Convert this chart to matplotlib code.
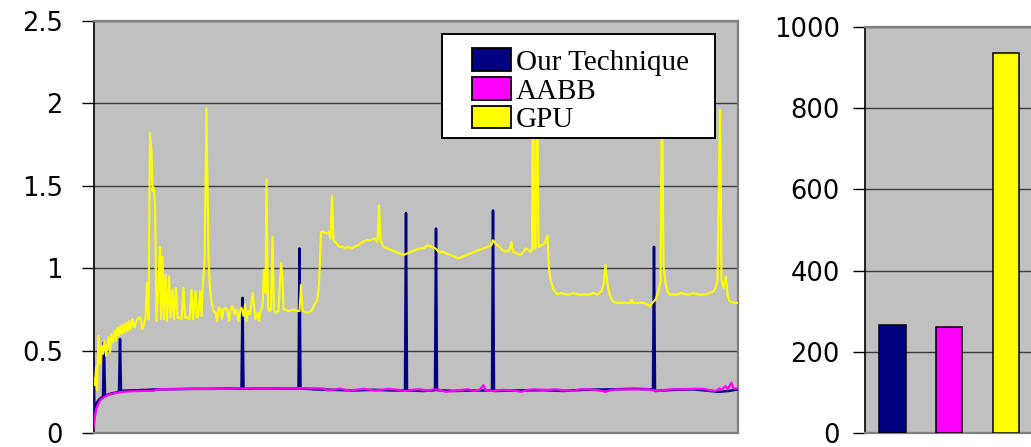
import matplotlib
matplotlib.use("Agg")
import matplotlib.pyplot as plt
from matplotlib.patches import Patch, Rectangle

# ---- per-frame collision query time (left panel) ----
series_names = ["Our Technique", "AABB", "GPU"]
series_colors = ["#000080", "#FF00FF", "#FFFF00"]

gpu_frames = [0, 1.5, 2.5, 3.5, 5, 6.5, 8, 9.5, 11, 12.5, 15, 16.5, 18, 19.5, 21, 22.5,
              24, 25.5, 27, 28.5, 30, 31.5, 33, 34.5, 36, 37.5, 39, 41, 43, 45, 47, 48.5,
              50, 52, 53.5, 55, 56.5, 58, 59, 60, 61.5, 63, 65, 66.5, 67.5, 69, 70.5, 72,
              73.5, 75.5, 77, 79, 80.5, 82.5, 84, 86, 88, 90, 91.5, 94, 96, 98, 99.5, 102,
              103.5, 105, 106.5, 108, 109.5, 111, 113, 115, 116.5, 118, 120, 122, 123.5,
              125, 127, 128.5, 130, 132, 134, 135.5, 137, 139, 141, 143, 145, 146.5, 148,
              150, 151.5, 153, 154.5, 156.5, 159, 160.5, 162, 164, 165.5, 167, 169, 170.5,
              172, 173, 174.5, 176, 177.5, 179, 180.5, 182, 185, 187.5, 189, 190, 195, 200,
              204, 206, 207.5, 209, 214, 218, 221, 223.5, 225.5, 227.5, 230, 233, 235.5,
              237, 238.5, 240, 243, 246, 249, 252, 255, 258, 261, 265, 269, 273, 277, 281,
              284, 285.5, 287, 290, 294, 298, 302, 306, 310, 314, 318, 322, 326, 330, 334,
              338, 342, 345, 349, 353, 357, 361, 365, 369, 373, 377, 381, 385, 390, 394,
              398, 399.5, 402, 406, 409, 413, 416, 418, 419.5, 423, 427, 430, 432, 435,
              437, 438.5, 439.5, 440.5, 442, 443.5, 445, 448, 451, 454, 455.5, 457, 460,
              464, 468, 472, 476, 480, 484, 488, 492, 496, 500, 504, 508, 510, 512, 514,
              516, 519, 522, 526, 530, 534, 537, 538, 539, 542, 546, 550, 554, 556, 559,
              562, 565, 567, 568.5, 570, 572, 574, 576, 580, 584, 588, 592, 596, 600, 604,
              608, 612, 616, 620, 622, 624, 626.5, 628, 630, 632.5, 634, 636, 640, 645]
gpu_time = [0.33, 0.29, 0.40, 0.26, 0.59, 0.42, 0.53, 0.48, 0.56, 0.47, 0.58, 0.49, 0.60,
            0.55, 0.62, 0.56, 0.64, 0.59, 0.65, 0.60, 0.66, 0.61, 0.67, 0.62, 0.68, 0.63,
            0.69, 0.64, 0.68, 0.70, 0.70, 0.63, 0.65, 0.70, 0.91, 0.69, 1.82, 1.71, 1.47,
            1.49, 1.39, 0.68, 0.90, 1.13, 0.69, 1.07, 0.69, 0.96, 0.68, 0.95, 0.70, 0.87,
            0.69, 0.88, 0.70, 0.70, 0.69, 0.88, 0.70, 0.70, 0.69, 0.87, 0.69, 0.86, 0.70,
            0.72, 0.86, 0.71, 0.92, 1.04, 1.97, 1.05, 0.88, 0.80, 0.74, 0.73, 0.68, 0.76,
            0.75, 0.69, 0.75, 0.76, 0.74, 0.68, 0.75, 0.77, 0.72, 0.75, 0.68, 0.74, 0.76,
            0.71, 0.78, 0.68, 0.74, 0.72, 0.85, 0.78, 0.69, 0.73, 0.68, 0.74, 0.77, 0.99,
            0.85, 1.54, 0.76, 0.74, 0.75, 1.19, 0.75, 0.73, 0.74, 1.03, 0.94, 0.75, 0.74,
            0.75, 0.74, 0.74, 0.90, 0.74, 0.73, 0.74, 0.78, 0.80, 0.90, 1.22, 1.22, 1.21,
            1.22, 1.18, 1.44, 1.17, 1.15, 1.13, 1.13, 1.12, 1.13, 1.12, 1.13, 1.14, 1.16,
            1.17, 1.17, 1.18, 1.16, 1.38, 1.17, 1.13, 1.12, 1.11, 1.10, 1.09, 1.08, 1.09,
            1.10, 1.11, 1.12, 1.12, 1.14, 1.13, 1.12, 1.10, 1.10, 1.09, 1.08, 1.07, 1.06,
            1.07, 1.08, 1.09, 1.10, 1.11, 1.12, 1.13, 1.14, 1.17, 1.15, 1.13, 1.11, 1.10,
            1.11, 1.16, 1.10, 1.09, 1.08, 1.10, 1.12, 1.11, 1.10, 1.11, 2.40, 1.12, 1.12,
            2.40, 1.13, 1.14, 1.15, 1.20, 1.00, 0.93, 0.87, 0.84, 0.85, 0.84, 0.84, 0.85,
            0.84, 0.84, 0.84, 0.84, 0.85, 0.84, 0.86, 0.90, 1.02, 0.90, 0.84, 0.80, 0.79,
            0.79, 0.79, 0.79, 0.79, 0.81, 0.79, 0.79, 0.79, 0.79, 0.78, 0.77, 0.79, 0.81,
            0.86, 0.92, 2.20, 1.02, 0.91, 0.86, 0.84, 0.84, 0.84, 0.85, 0.84, 0.84, 0.85,
            0.84, 0.84, 0.84, 0.85, 0.86, 0.88, 0.93, 1.96, 0.93, 0.88, 0.95, 0.84, 0.80,
            0.79, 0.79]

ours_frames = [0, 1, 2, 4, 6, 8, 9.5, 10.5, 11.5, 14, 18, 22, 25.5, 26.5, 27.5, 35, 45, 55,
               65, 80, 100, 120, 135, 148, 149, 150, 165, 180, 195, 205, 206, 207, 220, 240,
               260, 280, 300, 311.5, 312.5, 313.5, 330, 341.5, 342.5, 343.5, 360, 380,
               398.5, 399.5, 400.5, 420, 450, 470, 490, 520, 540, 559.5, 560.5, 561.5, 580,
               600, 625, 635, 645]
ours_time = [0.45, 0.12, 0.16, 0.19, 0.205, 0.215, 0.22, 0.55, 0.225, 0.232, 0.24, 0.245,
             0.25, 0.57, 0.255, 0.258, 0.26, 0.262, 0.265, 0.266, 0.268, 0.268, 0.27,
             0.268, 0.82, 0.268, 0.27, 0.27, 0.27, 0.27, 1.12, 0.27, 0.265, 0.262, 0.258,
             0.262, 0.258, 0.258, 1.335, 0.258, 0.255, 0.26, 1.24, 0.26, 0.255, 0.258,
             0.258, 1.35, 0.255, 0.258, 0.26, 0.255, 0.262, 0.265, 0.268, 0.265, 1.13,
             0.255, 0.262, 0.265, 0.25, 0.255, 0.265]

aabb_frames = [0, 1, 2, 3, 5, 7, 10, 14, 20, 27, 35, 45, 60, 64, 90, 120, 150, 180, 210,
               230, 234, 240, 246, 255, 262, 270, 280, 286, 295, 305, 312, 318, 326, 334,
               340, 346, 352, 360, 368, 375, 380, 386, 390, 392, 398, 404, 410, 420, 428,
               434, 440, 448, 455, 462, 470, 480, 486, 495, 505, 512, 518, 525, 535, 545,
               555, 560, 566, 572, 580, 590, 600, 610, 616, 622, 626, 628, 632, 634, 638,
               640, 645]
aabb_time = [0.03, 0.08, 0.12, 0.15, 0.18, 0.20, 0.215, 0.23, 0.24, 0.248, 0.252, 0.255,
             0.256, 0.265, 0.267, 0.268, 0.27, 0.27, 0.272, 0.27, 0.258, 0.262, 0.27,
             0.258, 0.262, 0.268, 0.258, 0.26, 0.268, 0.262, 0.255, 0.262, 0.265, 0.258,
             0.265, 0.262, 0.25, 0.255, 0.262, 0.265, 0.255, 0.262, 0.29, 0.262, 0.255,
             0.258, 0.262, 0.258, 0.25, 0.262, 0.265, 0.262, 0.262, 0.265, 0.26, 0.255,
             0.265, 0.265, 0.258, 0.25, 0.262, 0.265, 0.265, 0.265, 0.265, 0.26, 0.255,
             0.262, 0.265, 0.265, 0.268, 0.268, 0.26, 0.255, 0.27, 0.262, 0.285, 0.265,
             0.305, 0.27, 0.27]

left_ticks = [0, 0.5, 1, 1.5, 2, 2.5]
left_ticklabels = ["0", "0.5", "1", "1.5", "2", "2.5"]

# ---- total time per method (right panel) ----
total_time = [266, 260, 937]
right_ticks = [0, 200, 400, 600, 800, 1000]

W, H = 1031, 447
fig = plt.figure(figsize=(W / 100, H / 100), dpi=100)
fig.patch.set_facecolor("white")

plot_bg = "#C0C0C0"
grid_col = "#3a3a3a"
frame_col = "#808080"
tick_font = {"family": "DejaVu Sans", "size": 18.5}


def style_axes(ax, pad):
    ax.set_facecolor(plot_bg)
    ax.grid(axis="y", color=grid_col, linewidth=1.0, zorder=0)
    ax.set_axisbelow(True)
    ax.spines["left"].set_color("black")
    ax.spines["left"].set_linewidth(1.2)
    for s in ("top", "right", "bottom"):
        ax.spines[s].set_color(frame_col)
        ax.spines[s].set_linewidth(1.6)
    ax.tick_params(axis="y", direction="out", length=8.6, width=1.0, color="black",
                   pad=pad, labelsize=tick_font["size"])
    ax.tick_params(axis="x", length=0, labelbottom=False)
    for lbl in ax.get_yticklabels():
        lbl.set_family(tick_font["family"])


def fig_px(x, y):
    """Figure-pixel position (from top-left) to figure fraction."""
    return x / W, 1 - y / H


# left panel: per-frame lines
axl = fig.add_axes([93.5 / W, 14 / H, 645 / W, 412 / H])
axl.plot(ours_frames, ours_time, color=series_colors[0], linewidth=1.8, zorder=3)
axl.plot(aabb_frames, aabb_time, color=series_colors[1], linewidth=1.6, zorder=4)
axl.plot(gpu_frames, gpu_time, color=series_colors[2], linewidth=1.5, zorder=5)
axl.set_xlim(0, 645)
axl.set_ylim(0, 2.5)
axl.set_yticks(left_ticks)
axl.set_yticklabels(left_ticklabels)
style_axes(axl, pad=13.5)

# legend: white boxed panel with the series swatches inside
box_x0, box_y0 = fig_px(442, 138)
box_x1, box_y1 = fig_px(715, 34)
legend_box = Rectangle((box_x0, box_y0), box_x1 - box_x0, box_y1 - box_y0,
                       transform=fig.transFigure, facecolor="white", edgecolor="black",
                       linewidth=1.4, zorder=9)
axl.add_patch(legend_box)
legend_box.set_clip_on(False)

handles = [Patch(facecolor=c, edgecolor="black", linewidth=1.3) for c in series_colors]
leg = axl.legend(handles, series_names, loc="upper left",
                 bbox_to_anchor=fig_px(472, 48.5), bbox_transform=fig.transFigure,
                 prop={"family": "Liberation Serif", "size": 21},
                 frameon=False, borderaxespad=0, borderpad=0,
                 handlelength=1.34, handleheight=0.8, handletextpad=0.17,
                 labelspacing=0.05)
leg.set_zorder(10)

# right panel: totals as bars
bar_w_px = 56.75
axr = fig.add_axes([865 / W, 14 / H, 2.97 * bar_w_px / W, 406 / H])
axr.bar(range(len(total_time)), total_time, width=0.46, color=series_colors,
        edgecolor="black", linewidth=1.1, zorder=3)
axr.set_xlim(-0.485, 2.485)
axr.set_ylim(0, 1000)
axr.set_yticks(right_ticks)
style_axes(axr, pad=9.5)
axr.spines["right"].set_visible(False)

fig.savefig("out.png", dpi=100, facecolor="white")
